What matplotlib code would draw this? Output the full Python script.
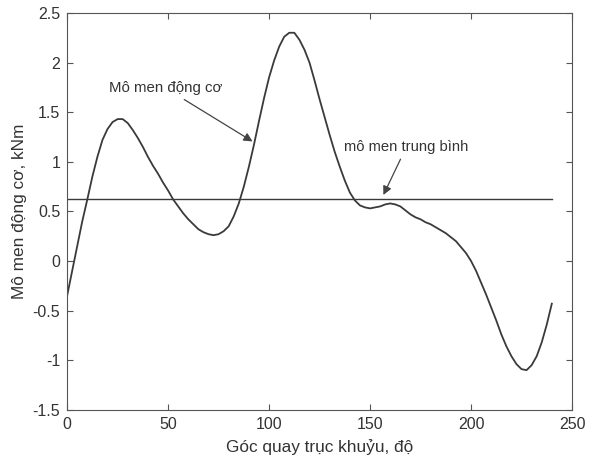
import matplotlib.pyplot as plt
import numpy as np

plt.rcParams["font.family"] = ["Liberation Sans", "DejaVu Sans"]
plt.rcParams["font.size"] = 11

# goc quay truc khuyu (do), buoc 2.5 do
goc = [i * 2.5 for i in range(97)]
# mo men dong co (kNm), doc tu hinh
mo_men = [-0.35, -0.10, 0.15, 0.40, 0.62, 0.85, 1.05, 1.22, 1.33, 1.40,
          1.43, 1.43, 1.39, 1.32, 1.24, 1.15, 1.05, 0.96, 0.88, 0.79,
          0.71, 0.62, 0.55, 0.48, 0.42, 0.37, 0.32, 0.29, 0.27, 0.26,
          0.27, 0.30, 0.35, 0.45, 0.58, 0.75, 0.95, 1.17, 1.41, 1.64,
          1.85, 2.02, 2.16, 2.26, 2.30, 2.30, 2.23, 2.13, 2.00, 1.82,
          1.63, 1.45, 1.27, 1.10, 0.95, 0.81, 0.69, 0.61, 0.56, 0.54,
          0.53, 0.54, 0.55, 0.57, 0.58, 0.57, 0.55, 0.51, 0.47, 0.44,
          0.42, 0.39, 0.37, 0.34, 0.31, 0.28, 0.24, 0.20, 0.14, 0.08,
          0.00, -0.10, -0.22, -0.34, -0.47, -0.60, -0.74, -0.86, -0.96, -1.04,
          -1.09, -1.10, -1.05, -0.96, -0.82, -0.64, -0.43]
mo_men_tb = 0.62

fig = plt.figure(figsize=(5.94, 4.61), dpi=100)
ax = fig.add_axes([0.113, 0.111, 0.850, 0.861])

ax.plot(goc, mo_men, color='#3a3a3a', lw=1.3)
ax.plot([goc[0], goc[-1]], [mo_men_tb, mo_men_tb], color='#3a3a3a', lw=1.0)

arrow = dict(arrowstyle='-|>', color='#444444', lw=0.9, mutation_scale=13)
ax.annotate('Mô men động cơ', xy=(93, 1.19), xytext=(77, 1.74),
            ha='right', va='center', fontsize=10.8, color='#333333',
            arrowprops=arrow)
ax.annotate('mô men trung bình', xy=(156, 0.64), xytext=(168, 1.15),
            ha='center', va='center', fontsize=10.6, color='#333333',
            arrowprops=arrow)

ax.set_xlim(0, 250)
ax.set_ylim(-1.5, 2.5)
ax.set_xticks([0, 50, 100, 150, 200, 250])
ax.set_yticks([-1.5, -1, -0.5, 0, 0.5, 1, 1.5, 2, 2.5])
ax.set_yticklabels(['-1.5', '-1', '-0.5', '0', '0.5', '1', '1.5', '2', '2.5'])
ax.tick_params(direction='in', top=True, right=True, length=4, pad=5,
               color='#555555', labelcolor='#333333', labelsize=11.5)
for s in ax.spines.values():
    s.set_color('#555555')

ax.set_xlabel('Góc quay trục khuỷu, độ', fontsize=12.4, color='#333333',
              labelpad=5)
ax.set_ylabel('Mô men động cơ, kNm', fontsize=12.4, color='#333333',
              labelpad=4)

plt.savefig('out.png', dpi=100)
